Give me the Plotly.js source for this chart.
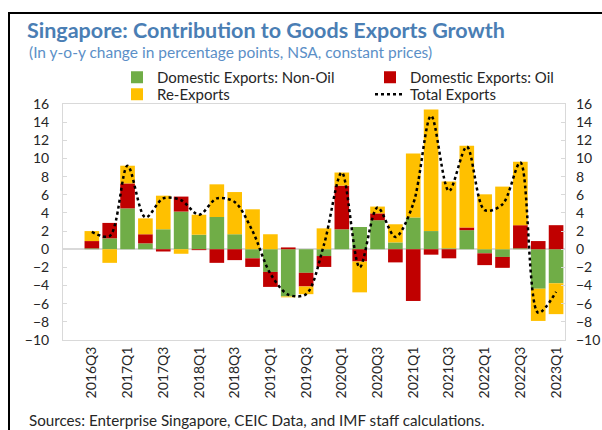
<!DOCTYPE html>
<html>
<head>
<meta charset="utf-8">
<script src="https://cdn.plot.ly/plotly-3.0.1.min.js"></script>
<style>
html,body{margin:0;padding:0;background:#fff;}
#wrap{position:relative;width:602px;height:430px;overflow:hidden;}
#chart{position:absolute;left:0;top:0;width:602px;height:430px;}
#frame{position:absolute;left:8px;top:12px;width:600px;height:430px;border-top:2px solid #000;border-left:2px solid #000;pointer-events:none;}
</style>
</head>
<body>
<div id="wrap"><div id="chart"></div><div id="frame"></div></div>
<script>
const quarters = ["2016Q3","2016Q4","2017Q1","2017Q2","2017Q3","2017Q4","2018Q1","2018Q2","2018Q3","2018Q4",
  "2019Q1","2019Q2","2019Q3","2019Q4","2020Q1","2020Q2","2020Q3","2020Q4","2021Q1","2021Q2","2021Q3","2021Q4",
  "2022Q1","2022Q2","2022Q3","2022Q4","2023Q1"];
const tickLabels = ["2016Q3","2017Q1","2017Q3","2018Q1","2018Q3","2019Q1","2019Q3","2020Q1","2020Q3","2021Q1","2021Q3","2022Q1","2022Q3","2023Q1"];
const nonOil = [0.1,1.2,4.5,0.65,2.2,4.15,1.6,3.55,1.65,-1.0,-2.5,-5.2,-2.6,-0.75,2.2,2.45,3.2,0.75,3.5,2.0,0.1,2.1,-0.45,-0.85,0.1,-4.35,-3.75];
const oil    = [0.8,1.7,2.75,1.0,-0.25,1.65,-0.1,-1.5,-1.2,-0.95,-1.65,0.2,-1.5,-1.2,4.8,-1.35,0.75,-1.45,-5.7,-0.6,-1.0,0.3,-1.3,-1.2,2.55,0.9,2.65];
const reExports = [1.1,-1.5,1.95,1.75,3.7,-0.5,2.2,3.6,4.65,4.4,1.65,-0.1,-0.85,2.3,1.45,-3.4,0.75,2.0,7.05,13.4,7.35,9.0,6.05,6.9,7.0,-3.55,-3.4];
const total  = [1.9,1.45,9.2,3.5,5.6,5.4,3.8,5.6,5.2,2.0,-2.7,-5.0,-4.95,0.5,8.45,-2.0,4.6,1.35,5.0,14.7,6.4,11.3,4.3,4.95,9.55,-7.0,-4.7];
const yTicks = [-10,-8,-6,-4,-2,0,2,4,6,8,10,12,14,16];

const FONT = "Lato, 'Open Sans', sans-serif";
const TXT = "#262626";

const traces = [
  {type:"bar", name:"Domestic Exports: Non-Oil", x:quarters, y:nonOil, marker:{color:"#70ad47"}, legend:"legend"},
  {type:"bar", name:"Domestic Exports: Oil", x:quarters, y:oil, marker:{color:"#c00000"}, legend:"legend2"},
  {type:"bar", name:"Re-Exports", x:quarters, y:reExports, marker:{color:"#ffc000"}, legend:"legend3"},
  {type:"scatter", mode:"lines", name:"Total Exports", x:quarters, y:total,
   line:{color:"#000", dash:"dot", width:2.5, shape:"spline", smoothing:0.9}, legend:"legend4"}
];

const axisFont = {family:FONT, size:14, color:TXT};
const legFont = {family:FONT, size:15, color:TXT};
function leg(px, py){
  return {xref:"container", yref:"container", x:px/602, y:1-py/430, xanchor:"left", yanchor:"top",
          orientation:"v", font:legFont, bgcolor:"rgba(0,0,0,0)", itemwidth:30};
}
const layout = {
  width:602, height:430,
  margin:{l:63, r:37, t:104, b:90, autoexpand:false},
  paper_bgcolor:"#fff", plot_bgcolor:"#fff",
  barmode:"relative", bargap:0.18,
  font:{family:FONT, color:TXT},
  title:{text:"Singapore: Contribution to Goods Exports Growth", x:27/602, xanchor:"left",
         y:1-30/430, yanchor:"middle", yref:"container",
         font:{family:FONT, size:21.5, color:"#4a7eb4", weight:"bold"}},
  xaxis:{type:"category", tickmode:"array", tickvals:tickLabels, ticktext:tickLabels,
         tickangle:-90, tickfont:axisFont, showline:true, mirror:true, linecolor:"#d9d9d9", linewidth:1,
         ticks:"", showgrid:false, zeroline:false, fixedrange:true, automargin:false},
  yaxis:{range:[-10,16], tickvals:yTicks, tickfont:axisFont, showline:true, mirror:true,
         linecolor:"#d9d9d9", linewidth:1, ticks:"inside", ticklen:4, tickcolor:"#d9d9d9",
         showgrid:false, zeroline:true, zerolinecolor:"#d9d9d9", zerolinewidth:1.5, ticklabelstandoff:10, automargin:false},
  yaxis2:{range:[-10,16], tickvals:yTicks, tickfont:axisFont, overlaying:"y", side:"right",
          ticks:"inside", ticklen:4, tickcolor:"#d9d9d9", showgrid:false, zeroline:false, showline:false,
          ticklabelstandoff:10, automargin:false},
  showlegend:true,
  legend:leg(117, 61),
  legend2:leg(370, 61),
  legend3:leg(117, 78),
  legend4:leg(370, 78),
  annotations:[
    {text:"(In y-o-y change in percentage points, NSA, constant prices)", xref:"paper", yref:"paper",
     x:(27-63)/502, y:1+(104-52)/236, xanchor:"left", yanchor:"middle", showarrow:false,
     font:{family:FONT, size:15.5, color:"#5b8fc7"}},
    {text:"Sources: Enterprise Singapore, CEIC Data, and IMF staff calculations.", xref:"paper", yref:"paper",
     x:(27-63)/502, y:-(420-340)/236, xanchor:"left", yanchor:"middle", showarrow:false,
     font:{family:FONT, size:15.2, color:TXT}}
  ]
};
traces.push({type:"scatter", x:[quarters[0]], y:[0], yaxis:"y2", mode:"markers", marker:{opacity:0}, showlegend:false, hoverinfo:"skip"});

Plotly.newPlot("chart", traces, layout, {displayModeBar:false, staticPlot:true});
</script>
</body>
</html>
